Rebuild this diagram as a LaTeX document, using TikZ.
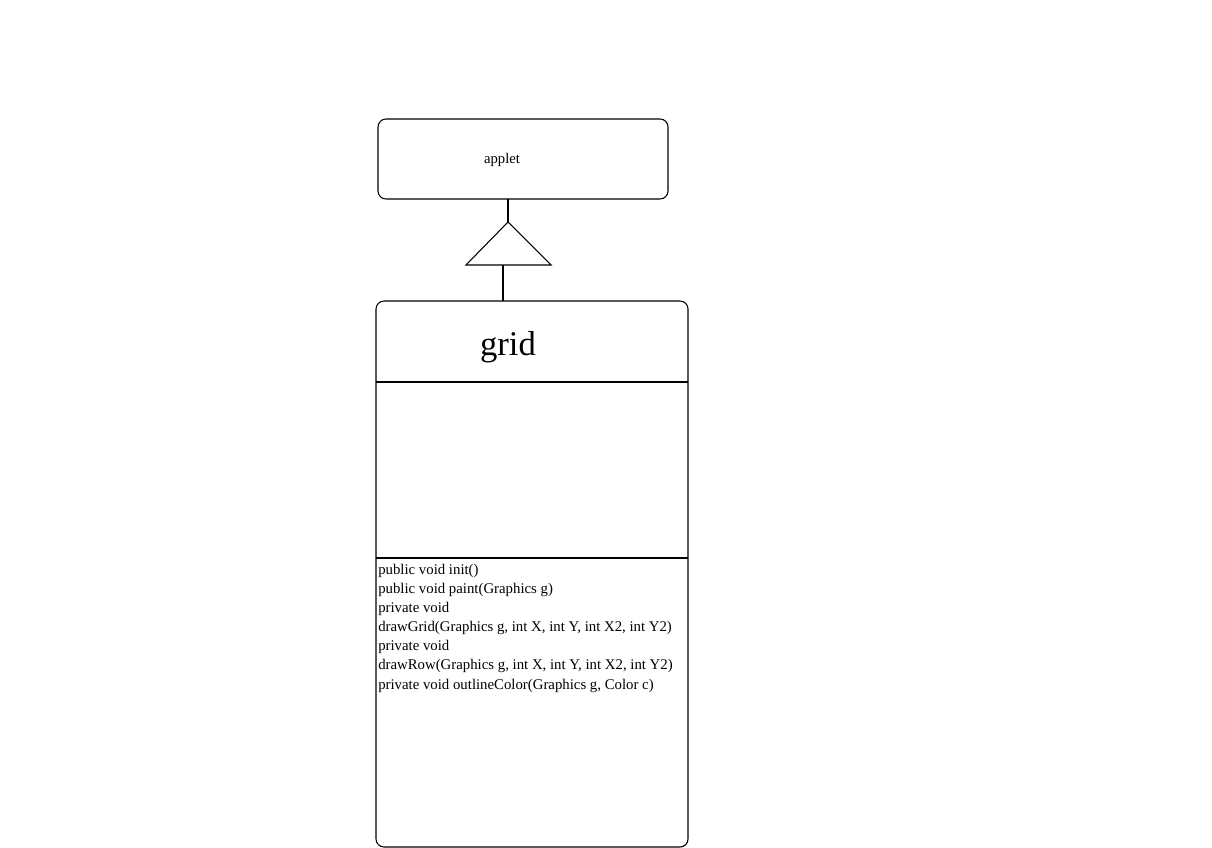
\documentclass[tikz,border=0pt]{standalone}
\usepackage{fontspec}
\setmainfont{Liberation Serif}
\begin{document}
\begin{tikzpicture}[x=0.75pt,y=-0.75pt,
  classbox/.style={draw,line width=0.8pt,rounded corners=6pt},
  conn/.style={draw,line width=0.8pt},
  method/.style={anchor=base west,inner sep=0pt,font=\fontsize{11.1pt}{13pt}\selectfont}]
\useasboundingbox (0,0) rectangle (1212,848);
\draw[classbox] (378,119) rectangle (668,199);
\node[inner sep=0pt,font=\fontsize{11pt}{13pt}\selectfont] (applet) at (502,160) {applet};
\coordinate (appletbot) at (508,199);
\coordinate (apex) at (508,222);
\coordinate (bl) at (466,265);
\coordinate (br) at (551,265);
\coordinate (basemid) at (503,265);
\coordinate (gridtop) at (503,301);
\draw[conn] (appletbot) -- (apex);
\draw[conn,line join=miter] (apex) -- (br) -- (bl) -- cycle;
\draw[conn] (basemid) -- (gridtop);
\draw[classbox] (376,301) rectangle (688,847);
\draw[conn] (376,382) -- (688,382);
\draw[conn] (376,558) -- (688,558);
\node[inner sep=0pt,font=\fontsize{26pt}{30pt}\selectfont] (grid) at (508,347) {grid};
\node[method] (m1) at (378,574) {public void init()};
\node[method] (m2) at (378,593) {public void paint(Graphics g)};
\node[method] (m3) at (378,612) {private void};
\node[method] (m4) at (378,631) {drawGrid(Graphics g, int X, int Y, int X2, int Y2)};
\node[method] (m5) at (378,650) {private void};
\node[method] (m6) at (378,669) {drawRow(Graphics g, int X, int Y, int X2, int Y2)};
\node[method] (m7) at (378,689) {private void outlineColor(Graphics g, Color c)};
\end{tikzpicture}
\end{document}
